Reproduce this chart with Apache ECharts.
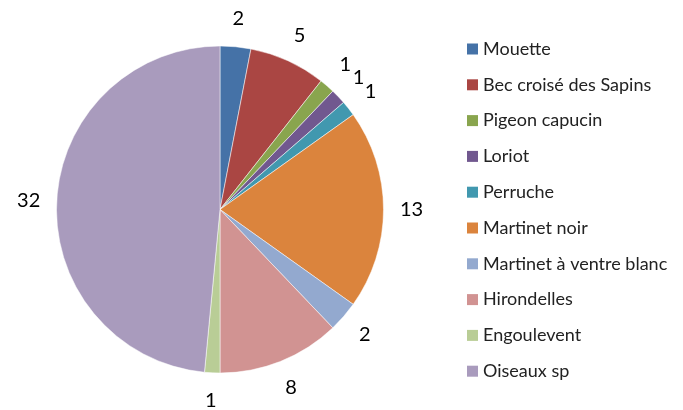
<!DOCTYPE html>
<html>
<head>
<meta charset="utf-8">
<script src="https://cdn.jsdelivr.net/npm/echarts@6/dist/echarts.min.js"></script>
<style>
  html, body { margin: 0; padding: 0; background: #fff; }
  #chart { width: 683px; height: 410px; }
</style>
</head>
<body>
<div id="chart"></div>
<script>
// espèces observées
var species = ["Mouette", "Bec croisé des Sapins", "Pigeon capucin", "Loriot", "Perruche",
  "Martinet noir", "Martinet à ventre blanc", "Hirondelles", "Engoulevent", "Oiseaux sp"];
var counts = [2, 5, 1, 1, 1, 13, 2, 8, 1, 32];
var colors = ["#4572A7", "#AA4643", "#89A54E", "#71588F", "#4198AF",
  "#DB843D", "#93A9CF", "#D19392", "#B9CD96", "#A99BBD"];

var pieData = species.map(function (name, i) {
  return { name: name, value: counts[i] };
});

var chart = echarts.init(document.getElementById("chart"));
var option = {
  animation: false,
  color: colors,
  legend: {
    orient: "vertical",
    left: 462,
    top: 35,
    icon: "rect",
    itemWidth: 11,
    itemHeight: 11,
    itemGap: 17.8,
    itemTextGap: 5,
    itemStyle: { borderWidth: 0 },
    textStyle: {
      fontFamily: "Lato",
      fontSize: 18,
      color: "#222"
    },
    data: species
  },
  series: [
    {
      // le camembert
      type: "pie",
      center: [220, 209.5],
      radius: 163.5,
      startAngle: 90,
      clockwise: true,
      label: { show: false },
      labelLine: { show: false },
      itemStyle: { borderColor: "#fff", borderWidth: 0.5 },
      emphasis: { disabled: true },
      data: pieData
    },
    {
      // anneau invisible pour placer les étiquettes
      type: "pie",
      center: [220, 209.5],
      radius: [163.5, 213.5],
      startAngle: 90,
      clockwise: true,
      silent: true,
      itemStyle: { color: "rgba(0,0,0,0)" },
      label: {
        show: true,
        position: "inside",
        formatter: "{c}",
        fontFamily: "Lato",
        fontSize: 20,
        color: "#000"
      },
      labelLine: { show: false },
      emphasis: { disabled: true },
      data: pieData
    }
  ]
};
chart.setOption(option);
</script>
</body>
</html>
